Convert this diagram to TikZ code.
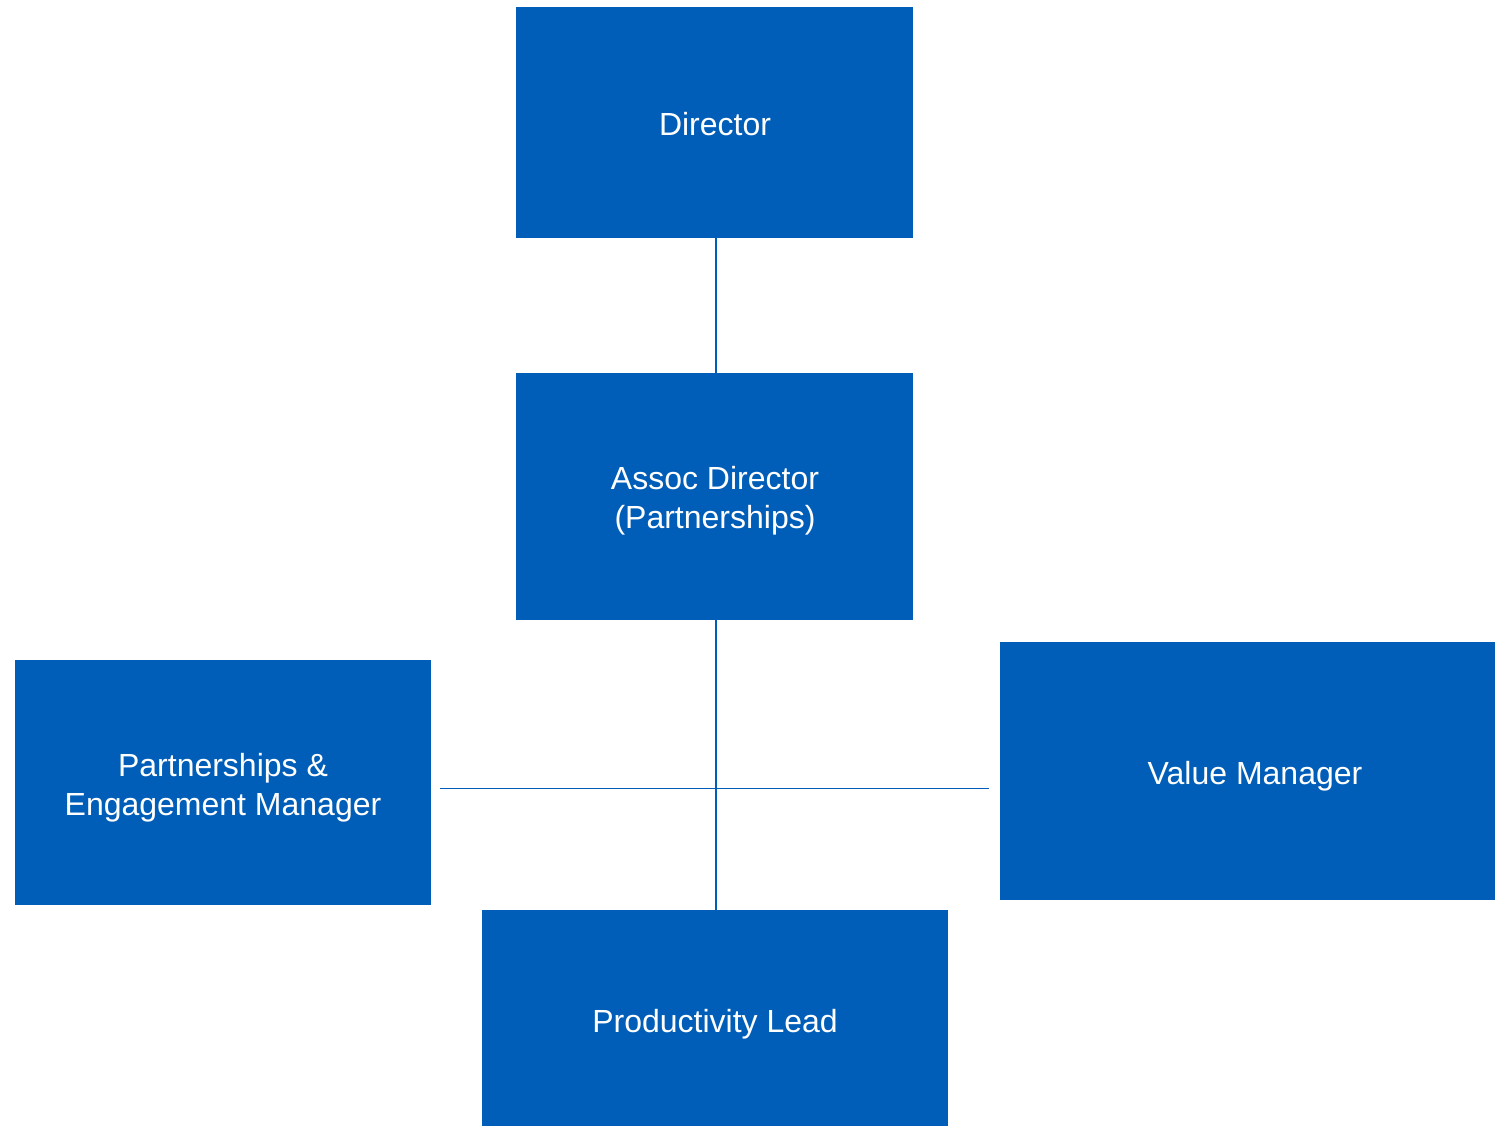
\documentclass[tikz,border=0pt]{standalone}
\usepackage{fontspec}
\setmainfont{Liberation Sans}
\definecolor{nhsblue}{HTML}{005EB8}
\begin{document}
\begin{tikzpicture}[x=1pt,y=-1pt,
  box/.style={fill=nhsblue,draw=none,text=white,align=center,inner sep=0pt,
    font=\fontsize{32}{39}\selectfont},
  link/.style={draw=nhsblue,line width=1.4pt}]
\useasboundingbox (0,0) rectangle (1495,1126);
\fill[white] (0,0) rectangle (1495,1126);
% boxes
\fill[nhsblue] (516,7) rectangle (913,238);
\node[box] (dir) at (715,124) {Director};
\fill[nhsblue] (516,373) rectangle (913,620);
\node[box] (ad) at (715,501) {Assoc Director\\(Partnerships)};
\fill[nhsblue] (15,660) rectangle (431,905);
\node[box] (pem) at (223,788) {Partnerships \&\\Engagement Manager};
\fill[nhsblue] (1000,642) rectangle (1495,900);
\node[box] (vm) at (1255,776) {Value Manager};
\fill[nhsblue] (482,910) rectangle (948,1126);
\node[box] (pl) at (715,1024) {Productivity Lead};
% anchor coordinates
\coordinate (dirB) at (716,238);
\coordinate (adT) at (716,373);
\coordinate (adB) at (716,620);
\coordinate (plT) at (716,910);
\coordinate (hl) at (440,788.5);
\coordinate (hr) at (989,788.5);
% connectors
\draw[link] (dirB) -- (adT);
\draw[link] (adB) -- (plT);
\draw[link] (hl) -- (hr);
\end{tikzpicture}
\end{document}
